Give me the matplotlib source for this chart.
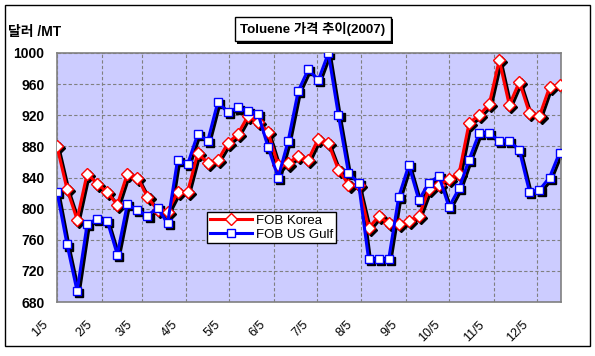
import pandas as pd
import matplotlib
matplotlib.use("Agg")
import matplotlib.pyplot as plt
import matplotlib.dates as mdates
import matplotlib.patheffects as pe
from matplotlib.transforms import offset_copy, ScaledTranslation
from matplotlib.patches import Rectangle

# weekly prices, USD/MT
week_start = "2007-01-05"
fob_korea = [880, 825, 786, 845, 832, 821, 805, 845, 840, 815,
             798, 796, 821, 822, 871, 859, 862, 884, 896, 919,
             911, 898, 856, 858, 868, 863, 890, 884, 850, 831,
             830, 775, 790, 781, 780, 784, 790, 825, 831, 838,
             845, 910, 920, 934, 991, 933, 963, 923, 919, 956, 959]
fob_us_gulf = [822, 754, 694, 780, 787, 784, 741, 806, 798, 791,
               801, 781, 863, 857, 896, 887, 937, 924, 930, 925,
               922, 879, 840, 887, 951, 979, 965, 1000, 920, 846,
               833, 735, 735, 735, 815, 856, 811, 833, 842, 802,
               826, 863, 897, 897, 887, 887, 875, 822, 824, 840, 872]
dates = pd.date_range(week_start, periods=len(fob_korea), freq="7D")

tick_dates = ["2007-01-05", "2007-02-05", "2007-03-05", "2007-04-05",
              "2007-05-05", "2007-06-05", "2007-07-05", "2007-08-05",
              "2007-09-05", "2007-10-05", "2007-11-05", "2007-12-05"]
tick_labels = ["1/5", "2/5", "3/5", "4/5", "5/5", "6/5",
               "7/5", "8/5", "9/5", "10/5", "11/5", "12/5"]
y_ticks = [680, 720, 760, 800, 840, 880, 920, 960, 1000]

plt.rcParams['font.family'] = ['Liberation Sans', 'Noto Sans CJK KR', 'DejaVu Sans']

fig = plt.figure(figsize=(5.95, 3.56), dpi=100)
ax = fig.add_axes([57 / 595, 1 - 302 / 356, 504 / 595, 249 / 356])
ax.set_facecolor("#CCCCFF")

# outer chart frame
fig.patches.append(Rectangle((5 / 595, 1 - 346 / 356), 585 / 595, 341 / 356,
                             transform=fig.transFigure, fill=False,
                             edgecolor="black", linewidth=1))

# shadows first (offset copy of each series)
shadow = offset_copy(ax.transData, fig=fig, x=1.5, y=-1.5, units="points")
for vals, mk in [(fob_korea, "D"), (fob_us_gulf, "s")]:
    ax.plot(dates, vals, color="black", lw=2.2, marker=mk, ms=6.2,
            mfc="black", mec="black", transform=shadow, zorder=2)

ax.plot(dates, fob_korea, color="#FF0000", lw=2.2, marker="D", ms=6.2,
        mfc="white", mec="#FF0000", mew=1, label="FOB Korea", zorder=3)
ax.plot(dates, fob_us_gulf, color="#0000FF", lw=2.2, marker="s", ms=6.2,
        mfc="white", mec="#0000FF", mew=1, label="FOB US Gulf", zorder=4)

ax.set_xlim(pd.Timestamp("2007-01-05"), pd.Timestamp("2007-12-22"))
ax.set_ylim(680, 1000)
ax.set_yticks(y_ticks)
ax.set_yticklabels([str(v) for v in y_ticks], fontsize=10, fontweight="bold")
ax.set_xticks(mdates.date2num(pd.to_datetime(tick_dates)))
ax.tick_params(axis="y", length=0, pad=9)
ax.tick_params(axis="x", length=0, pad=12)
ax.set_xticklabels(tick_labels, fontsize=9, rotation=45, ha="right",
                   rotation_mode="anchor")
# labels sit a bit left of their gridline, as in the original
shift = ScaledTranslation(-15 / 100, 0, fig.dpi_scale_trans)
for lab in ax.get_xticklabels():
    lab.set_transform(lab.get_transform() + shift)

ax.grid(True, color="#808080", linestyle=(0, (3, 2)), linewidth=0.8)
ax.set_axisbelow(True)
for s in ax.spines.values():
    s.set_color("#808080")
    s.set_linewidth(1.2)

leg = ax.legend(loc="upper left", bbox_to_anchor=(0.298, 0.361), borderaxespad=0,
                fancybox=False, edgecolor="black", framealpha=1, numpoints=1,
                handlelength=3.2, prop={"size": 9.5}, borderpad=0.2,
                labelspacing=0.1, handletextpad=0.3)
leg.get_frame().set_linewidth(1)

# title box with shadow
t = fig.text(313 / 595, 1 - 29 / 356, "Toluene 가격 추이(2007)", ha="center", va="center",
             fontsize=9.6, fontweight="bold",
             bbox=dict(boxstyle="square,pad=0.4", fc="white", ec="black", lw=1))
t.get_bbox_patch().set_path_effects([
    pe.SimplePatchShadow(offset=(1.6, -1.6), shadow_rgbFace="black", alpha=1),
    pe.Normal()])

fig.text(8 / 595, 1 - 32 / 356, "달러 /MT", ha="left", va="center",
         fontsize=10, fontweight="bold")

fig.savefig("out.png", dpi=100)
